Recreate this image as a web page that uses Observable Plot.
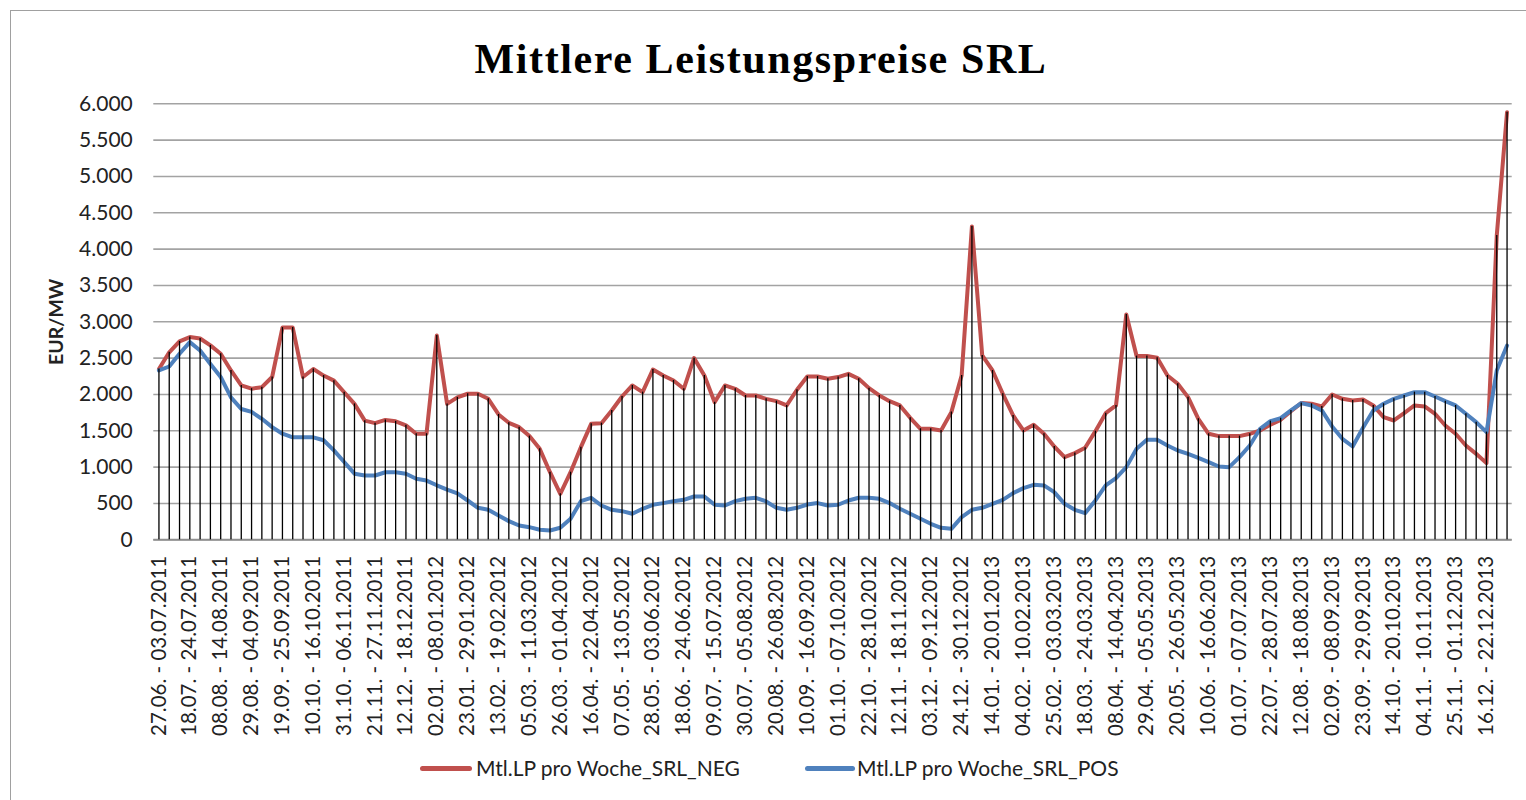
<!DOCTYPE html>
<html>
<head>
<meta charset="utf-8">
<script src="https://cdn.jsdelivr.net/npm/d3@7"></script>
<script src="https://cdn.jsdelivr.net/npm/@observablehq/plot@0.6"></script>
<style>
  html, body { margin: 0; padding: 0; background: #fff; }
  body { width: 1526px; height: 800px; overflow: hidden; position: relative; font-family: Lato, "Open Sans", sans-serif; }
  #frame { position: absolute; left: 10px; top: 10px; width: 1600px; height: 900px; border-left: 1.5px solid #a0a0a0; border-top: 1.5px solid #a0a0a0; }
  #title { position: absolute; left: 361px; width: 800px; top: 38px; text-align: center; font: bold 42px/42px "Liberation Serif", serif; letter-spacing: 1.6px; color: #000; }
  #chart { position: absolute; left: 0; top: 90px; }
  .sw { position: absolute; height: 5px; border-radius: 2.5px; top: 766px; }
  .lt { position: absolute; top: 756px; font-size: 21px; line-height: 24px; color: #222; white-space: nowrap; }
</style>
</head>
<body>
<div id="frame"></div>
<div id="title">Mittlere Leistungspreise SRL</div>
<div id="chart"></div>
<div class="sw" style="left:420px;width:52px;background:#C0504D"></div>
<div class="lt" id="l1" style="left:476px"></div>
<div class="sw" style="left:805px;width:50px;background:#4F81BD"></div>
<div class="lt" id="l2" style="left:857px"></div>
<script>
// Series names
const seriesNames = ["Mtl.LP pro Woche_SRL_NEG", "Mtl.LP pro Woche_SRL_POS"];

// Weekly mean capacity prices (EUR/MW), 132 weeks from 27.06.2011
const negValues = [
  2350, 2580, 2730, 2790, 2770, 2675, 2560, 2330, 2125, 2080,
  2100, 2240, 2920, 2920, 2240, 2350, 2260, 2190, 2030, 1870,
  1640, 1605, 1650, 1630, 1575, 1460, 1460, 2810, 1870, 1960,
  2010, 2010, 1940, 1725, 1610, 1550, 1427, 1252, 930, 633,
  930, 1275, 1596, 1605, 1780, 1972, 2124, 2032, 2344, 2261,
  2193, 2078, 2500, 2261, 1894, 2124, 2078, 1986, 1986, 1940,
  1908, 1849, 2065, 2248, 2248, 2216, 2239, 2284, 2216, 2087,
  1986, 1908, 1849, 1679, 1528, 1528, 1505, 1757, 2261, 4312,
  2537, 2330, 2009, 1711, 1505, 1583, 1459, 1284, 1138, 1193,
  1266, 1495, 1743, 1849, 3100, 2528, 2528, 2505, 2261, 2147,
  1963, 1665, 1459, 1427, 1427, 1427, 1459, 1505, 1583, 1651,
  1771, 1881, 1872, 1835, 2000, 1940, 1917, 1931, 1849, 1688,
  1642, 1743, 1849, 1835, 1734, 1573, 1459, 1298, 1183, 1055,
  4188, 5885
];
const posValues = [
  2330, 2385, 2560, 2720, 2605, 2420, 2240, 1960, 1800, 1760,
  1665, 1550, 1460, 1410, 1410, 1410, 1370, 1230, 1070, 910,
  885, 885, 930, 930, 910, 840, 815, 750, 690, 640,
  541, 440, 413, 335, 257, 197, 174, 138, 128, 165,
  289, 532, 578, 472, 413, 394, 358, 427, 482, 505,
  532, 550, 596, 596, 482, 472, 532, 564, 578, 528,
  440, 413, 440, 486, 505, 472, 482, 541, 578, 578,
  564, 505, 427, 358, 289, 220, 165, 151, 312, 413,
  440, 495, 550, 642, 711, 757, 748, 656, 495, 413,
  367, 541, 748, 849, 1000, 1252, 1376, 1376, 1298, 1229,
  1183, 1128, 1069, 1009, 1000, 1138, 1298, 1528, 1633, 1674,
  1780, 1881, 1849, 1780, 1560, 1390, 1284, 1541, 1780, 1872,
  1940, 1986, 2032, 2032, 1972, 1908, 1849, 1734, 1619, 1482,
  2330, 2674
];

// Category tick labels (every third week)
const xLabels = [
  "27.06. - 03.07.2011", "18.07. - 24.07.2011", "08.08. - 14.08.2011", "29.08. - 04.09.2011",
  "19.09. - 25.09.2011", "10.10. - 16.10.2011", "31.10. - 06.11.2011", "21.11. - 27.11.2011",
  "12.12. - 18.12.2011", "02.01. - 08.01.2012", "23.01. - 29.01.2012", "13.02. - 19.02.2012",
  "05.03. - 11.03.2012", "26.03. - 01.04.2012", "16.04. - 22.04.2012", "07.05. - 13.05.2012",
  "28.05. - 03.06.2012", "18.06. - 24.06.2012", "09.07. - 15.07.2012", "30.07. - 05.08.2012",
  "20.08. - 26.08.2012", "10.09. - 16.09.2012", "01.10. - 07.10.2012", "22.10. - 28.10.2012",
  "12.11. - 18.11.2012", "03.12. - 09.12.2012", "24.12. - 30.12.2012", "14.01. - 20.01.2013",
  "04.02. - 10.02.2013", "25.02. - 03.03.2013", "18.03. - 24.03.2013", "08.04. - 14.04.2013",
  "29.04. - 05.05.2013", "20.05. - 26.05.2013", "10.06. - 16.06.2013", "01.07. - 07.07.2013",
  "22.07. - 28.07.2013", "12.08. - 18.08.2013", "02.09. - 08.09.2013", "23.09. - 29.09.2013",
  "14.10. - 20.10.2013", "04.11. - 10.11.2013", "25.11. - 01.12.2013", "16.12. - 22.12.2013"
];
const labelStep = 3;
const yTicks = [0, 500, 1000, 1500, 2000, 2500, 3000, 3500, 4000, 4500, 5000, 5500, 6000];
const yLabel = "EUR/MW";

const rows = negValues.map((v, i) => ({i, neg: v, pos: posValues[i], top: Math.max(v, posValues[i])}));
const xTickIdx = xLabels.map((_, k) => k * labelStep);
const de = d3.formatLocale({decimal: ",", thousands: ".", grouping: [3], currency: ["", " €"]});
const fmt = de.format(",");

const chart = Plot.plot({
  width: 1526,
  height: 660,
  marginLeft: 153.3,
  marginRight: 14.3,
  marginTop: 13.3,
  marginBottom: 210.7,
  x: {type: "linear", domain: [-0.5, rows.length - 0.5]},
  y: {type: "linear", domain: [0, 6000]},
  style: {fontFamily: "Lato, sans-serif", background: "transparent", overflow: "visible"},
  marks: [
    Plot.ruleY(yTicks, {stroke: "#a3a3a3", strokeWidth: 1.6}),
    Plot.ruleY([0], {stroke: "#8f8f8f", strokeWidth: 2}),
    Plot.axisY({ticks: yTicks, tickSize: 0, tickPadding: 21, tickFormat: fmt, fontSize: 21, fill: "#222"}),
    Plot.axisX({ticks: xTickIdx, tickFormat: i => xLabels[i / labelStep], tickRotate: -90, tickSize: 0, tickPadding: 16, fontSize: 20.5, fill: "#222", label: null}),
    Plot.text([yLabel], {frameAnchor: "left", textAnchor: "middle", rotate: -90, dx: -97, fontSize: 19.5, fontWeight: "bold", fill: "#222"}),
    Plot.line(rows, {x: "i", y: "neg", stroke: "#C0504D", strokeWidth: 4}),
    Plot.line(rows, {x: "i", y: "pos", stroke: "#4F81BD", strokeWidth: 4}),
    Plot.ruleX(rows, {x: "i", y1: 0, y2: "top", stroke: "#000", strokeWidth: 1.3})
  ]
});
document.getElementById("chart").appendChild(chart);
document.getElementById("l1").textContent = seriesNames[0];
document.getElementById("l2").textContent = seriesNames[1];
</script>
</body>
</html>
